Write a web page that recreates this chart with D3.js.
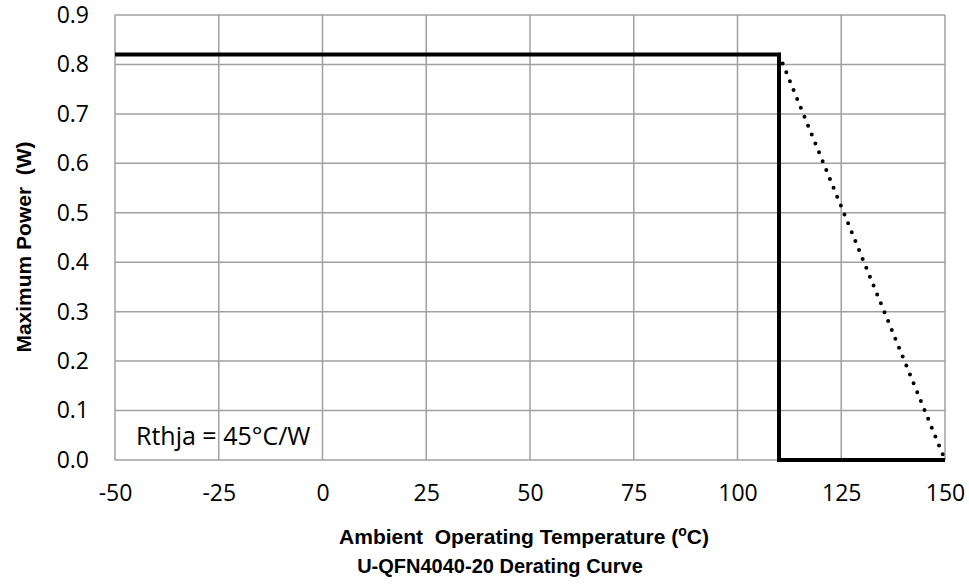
<!DOCTYPE html>
<html>
<head>
<meta charset="utf-8">
<script src="https://cdn.jsdelivr.net/npm/d3@7"></script>
<style>
  body { margin: 0; background: #fff; }
  svg { display: block; }
  text { white-space: pre; }
</style>
</head>
<body>
<div id="chart"></div>
<script>
// data
const xTicks = [-50, -25, 0, 25, 50, 75, 100, 125, 150];
const yTicks = [0.0, 0.1, 0.2, 0.3, 0.4, 0.5, 0.6, 0.7, 0.8, 0.9];
const deratingTemp = [-50, 110, 110, 150];
const deratingPower = [0.82, 0.82, 0, 0];
const slopeTemp = [110, 150];
const slopePower = [0.82, 0];
const xTitle = "Ambient  Operating Temperature (";
const yTitle = "Maximum Power  (W)";
const chartTitle = "U-QFN4040-20 Derating Curve";
const note = "Rthja = 45°C/W";

//dims
const width = 969, height = 586;
const margin = ({ top: 15, right: 24, bottom: 126, left: 115 });

const x = d3.scaleLinear()
    .domain([-50, 150])
    .range([margin.left, width - margin.right]);

const y = d3.scaleLinear()
    .domain([0, 0.9])
    .range([height - margin.bottom, margin.top]);

const svg = d3.select("#chart")
    .append("svg")
    .attr("width", width)
    .attr("height", height);

const gridColor = "#a0a0a0";

// grid
svg.append("g")
    .selectAll("line")
    .data(xTicks)
    .join("line")
    .attr("x1", d => x(d)).attr("x2", d => x(d))
    .attr("y1", y(0.9)).attr("y2", y(0))
    .attr("stroke", gridColor)
    .attr("stroke-width", 1.5);

svg.append("g")
    .selectAll("line")
    .data(yTicks)
    .join("line")
    .attr("x1", x(-50)).attr("x2", x(150))
    .attr("y1", d => y(d)).attr("y2", d => y(d))
    .attr("stroke", gridColor)
    .attr("stroke-width", 1.5);

// axes
const yAxis = d3.axisLeft(y).tickValues(yTicks).tickFormat(d => d.toFixed(1)).tickSize(0).tickPadding(26);
const xAxis = d3.axisBottom(x).tickValues(xTicks).tickFormat(d => String(d)).tickSize(0).tickPadding(25);

svg.append("g")
    .attr("transform", `translate(${margin.left},0)`)
    .call(yAxis)
    .call(g => g.select(".domain").remove())
    .selectAll("text")
    .style("font-family", "Open Sans")
    .style("font-size", "23px")
    .style("fill", "#000");

svg.append("g")
    .attr("transform", `translate(0,${y(0)})`)
    .call(xAxis)
    .call(g => g.select(".domain").remove())
    .selectAll("text")
    .style("font-family", "Open Sans")
    .style("font-size", "23px")
    .style("fill", "#000");

// lines
const pts = (xs, ys) => xs.map((d, i) => [x(d), y(ys[i])]);
const line = d3.line();

svg.append("path")
    .attr("d", line(pts(slopeTemp, slopePower)))
    .attr("fill", "none")
    .attr("stroke", "#000")
    .attr("stroke-width", 4)
    .attr("stroke-linecap", "round")
    .attr("stroke-dasharray", "0,9.6")
    .attr("stroke-dashoffset", -9.6);

svg.append("path")
    .attr("d", line(pts(deratingTemp, deratingPower)))
    .attr("fill", "none")
    .attr("stroke", "#000")
    .attr("stroke-width", 4)
    .attr("stroke-linejoin", "miter");

// note
svg.append("text")
    .attr("x", 136)
    .attr("y", 445)
    .style("font-family", "Open Sans")
    .style("font-size", "25px")
    .text(note);

// titles
const xt = svg.append("text")
    .attr("x", 524)
    .attr("y", 544)
    .attr("text-anchor", "middle")
    .style("font-family", "Liberation Sans")
    .style("font-weight", "bold")
    .style("font-size", "21px");
xt.append("tspan").text(xTitle);
xt.append("tspan").attr("dy", -8).style("font-size", "14px").text("o");
xt.append("tspan").attr("dy", 8).text("C)");

svg.append("text")
    .attr("x", 500)
    .attr("y", 573)
    .attr("text-anchor", "middle")
    .style("font-family", "Liberation Sans")
    .style("font-weight", "bold")
    .style("font-size", "20px")
    .text(chartTitle);

svg.append("text")
    .attr("transform", `translate(31,247) rotate(-90)`)
    .attr("text-anchor", "middle")
    .style("font-family", "Liberation Sans")
    .style("font-weight", "bold")
    .style("font-size", "21px")
    .text(yTitle);
</script>
</body>
</html>
